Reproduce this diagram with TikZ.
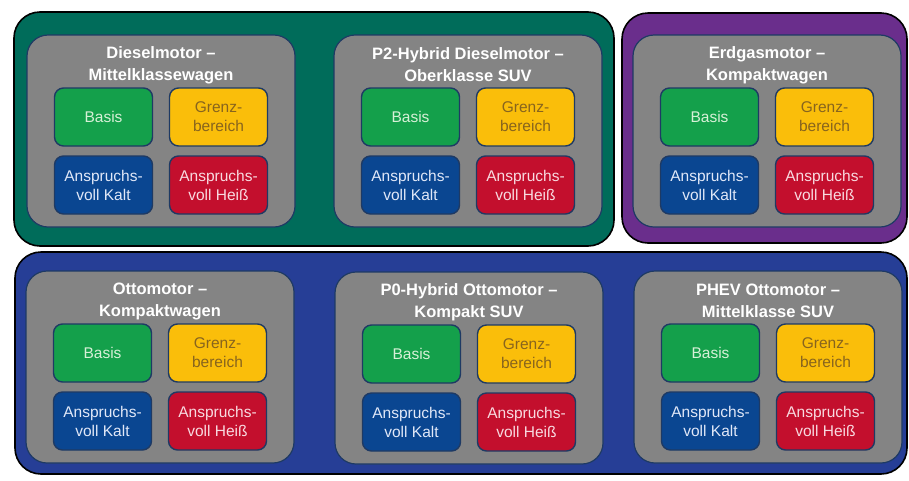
\documentclass[tikz,border=0pt]{standalone}
\usepackage{fontspec}
\setmainfont{Liberation Sans}
\usetikzlibrary{calc}
\usetikzlibrary{positioning}

\definecolor{dieselteal}{RGB}{0,108,90}
\definecolor{gaspurple}{RGB}{106,46,140}
\definecolor{ottoblue}{RGB}{38,62,150}
\definecolor{groupgrey}{RGB}{132,132,132}
\definecolor{framenavy}{RGB}{30,58,100}
\definecolor{basisgreen}{RGB}{20,160,75}
\definecolor{grenzyellow}{RGB}{250,190,10}
\definecolor{kaltblue}{RGB}{10,70,145}
\definecolor{heissred}{RGB}{195,15,45}
\definecolor{basistext}{RGB}{215,240,215}
\definecolor{grenztext}{RGB}{135,100,30}
\definecolor{kalttext}{RGB}{225,232,248}
\definecolor{heisstext}{RGB}{248,218,224}

\begin{document}
\begin{tikzpicture}[x=1pt, y=-1pt,
        outerbox/.style={draw=black, line width=1.6pt, rounded corners=26pt, inner sep=0pt},
        groupbox/.style={draw=framenavy, line width=1.2pt, fill=groupgrey, rounded corners=21pt,
            minimum width=268pt, minimum height=192pt, inner sep=0pt},
        grouptitle/.style={text=white, align=center, font=\bfseries\fontsize{16.5}{22}\selectfont},
        testbox/.style={draw=framenavy, line width=1.4pt, rounded corners=9pt, minimum width=98pt,
            minimum height=58pt, inner sep=0pt, align=center, font=\fontsize{15.5}{19}\selectfont},
        basis/.style={testbox, fill=basisgreen, text=basistext},
        grenz/.style={testbox, fill=grenzyellow, text=grenztext},
        kalt/.style={testbox, fill=kaltblue, text=kalttext},
        heiss/.style={testbox, fill=heissred, text=heisstext}]
            \useasboundingbox (0,0) rectangle (909,480);

            \node[outerbox, fill=dieselteal, minimum width=600pt, minimum height=234pt] (diesel) at (314,129) {};
            \node[outerbox, fill=gaspurple, minimum width=285pt, minimum height=230pt] (gas) at (764.5,128) {};
            \node[outerbox, fill=ottoblue, minimum width=892pt, minimum height=222pt] (otto) at (461,363) {};

            \node[groupbox] (D1) at (161,131) {};
            \node[groupbox] (D2) at (468,131) {};
            \node[groupbox] (E1) at (767,131) {};
            \node[groupbox] (O1) at (160,367) {};
            \node[groupbox] (O2) at (469,368) {};
            \node[groupbox] (O3) at (768,367) {};

            \node[grouptitle] (D1title) at ($(D1) + (0,-66)$) {Dieselmotor –\\Mittelklassewagen};
            \node[grouptitle] (D2title) at ($(D2) + (0,-66)$) {P2-Hybrid Dieselmotor –\\Oberklasse SUV};
            \node[grouptitle] (E1title) at ($(E1) + (0,-66)$) {Erdgasmotor –\\Kompaktwagen};
            \node[grouptitle] (O1title) at ($(O1) + (0,-66)$) {Ottomotor –\\Kompaktwagen};
            \node[grouptitle] (O2title) at ($(O2) + (0,-66)$) {P0-Hybrid Ottomotor –\\Kompakt SUV};
            \node[grouptitle] (O3title) at ($(O3) + (0,-66)$) {PHEV Ottomotor –\\Mittelklasse SUV};

            \node[basis] (D1basis) at ($(D1) + (-57.5,-14)$) {Basis};
            \node[grenz] (D1grenz) at ($(D1) + (57.5,-14)$) {Grenz-\\bereich};
            \node[kalt] (D1kalt) at ($(D1) + (-57.5,54)$) {Anspruchs-\\voll Kalt};
            \node[heiss] (D1heiss) at ($(D1) + (57.5,54)$) {Anspruchs-\\voll Heiß};

            \node[basis] (D2basis) at ($(D2) + (-57.5,-14)$) {Basis};
            \node[grenz] (D2grenz) at ($(D2) + (57.5,-14)$) {Grenz-\\bereich};
            \node[kalt] (D2kalt) at ($(D2) + (-57.5,54)$) {Anspruchs-\\voll Kalt};
            \node[heiss] (D2heiss) at ($(D2) + (57.5,54)$) {Anspruchs-\\voll Heiß};

            \node[basis] (E1basis) at ($(E1) + (-57.5,-14)$) {Basis};
            \node[grenz] (E1grenz) at ($(E1) + (57.5,-14)$) {Grenz-\\bereich};
            \node[kalt] (E1kalt) at ($(E1) + (-57.5,54)$) {Anspruchs-\\voll Kalt};
            \node[heiss] (E1heiss) at ($(E1) + (57.5,54)$) {Anspruchs-\\voll Heiß};

            \node[basis] (O1basis) at ($(O1) + (-57.5,-14)$) {Basis};
            \node[grenz] (O1grenz) at ($(O1) + (57.5,-14)$) {Grenz-\\bereich};
            \node[kalt] (O1kalt) at ($(O1) + (-57.5,54)$) {Anspruchs-\\voll Kalt};
            \node[heiss] (O1heiss) at ($(O1) + (57.5,54)$) {Anspruchs-\\voll Heiß};

            \node[basis] (O2basis) at ($(O2) + (-57.5,-14)$) {Basis};
            \node[grenz] (O2grenz) at ($(O2) + (57.5,-14)$) {Grenz-\\bereich};
            \node[kalt] (O2kalt) at ($(O2) + (-57.5,54)$) {Anspruchs-\\voll Kalt};
            \node[heiss] (O2heiss) at ($(O2) + (57.5,54)$) {Anspruchs-\\voll Heiß};

            \node[basis] (O3basis) at ($(O3) + (-57.5,-14)$) {Basis};
            \node[grenz] (O3grenz) at ($(O3) + (57.5,-14)$) {Grenz-\\bereich};
            \node[kalt] (O3kalt) at ($(O3) + (-57.5,54)$) {Anspruchs-\\voll Kalt};
            \node[heiss] (O3heiss) at ($(O3) + (57.5,54)$) {Anspruchs-\\voll Heiß};
        \end{tikzpicture}
\end{document}
